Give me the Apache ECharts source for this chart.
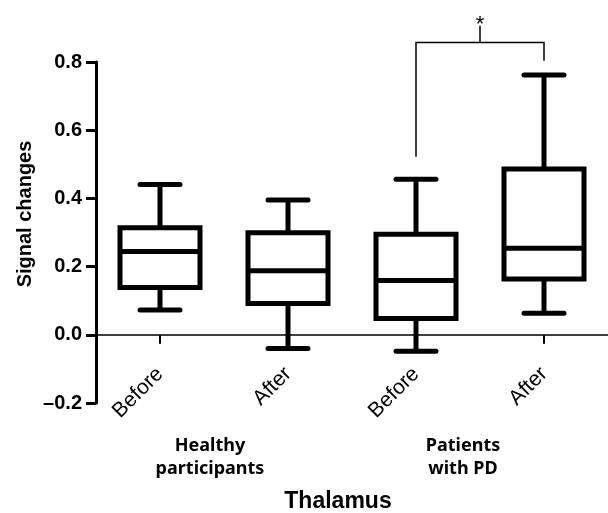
<!DOCTYPE html>
<html>
<head>
<meta charset="utf-8">
<script src="https://cdn.jsdelivr.net/npm/echarts@6/dist/echarts.min.js"></script>
<style>
  html, body { margin: 0; padding: 0; background: #fff; }
  #main { width: 608px; height: 513px; }
</style>
</head>
<body>
<div id="main"></div>
<script>
// data
var categories = ['Before', 'After', 'Before', 'After'];
var groupLabels = ['Healthy\nparticipants', 'Patients\nwith PD'];
var whiskerLow = [0.073, -0.040, -0.048, 0.063];
var q1 = [0.139, 0.092, 0.048, 0.164];
var median = [0.244, 0.188, 0.159, 0.254];
var q3 = [0.314, 0.299, 0.295, 0.486];
var whiskerHigh = [0.441, 0.395, 0.456, 0.762];
var yMin = -0.2, yMax = 0.8, yStep = 0.2;
// significance bracket: from category, to category, left foot, right foot, top, star
var bracket = [2, 3, 0.522, 0.804, 0.857, 0.906];
var bracketMark = '*';

var boxData = categories.map(function (c, i) {
    return [i, whiskerLow[i], q1[i], median[i], q3[i], whiskerHigh[i]];
});

var dom = document.getElementById('main');
var myChart = echarts.init(dom);

var gridTop = 62, gridHeight = 341;
// move the category axis up from the grid bottom to the zero line
var zeroOffset = -gridHeight * (0 - yMin) / (yMax - yMin);

function renderBox(params, api) {
    var x = api.value(0);
    var pLo = api.coord([x, api.value(1)]);
    var pQ1 = api.coord([x, api.value(2)]);
    var pMed = api.coord([x, api.value(3)]);
    var pQ3 = api.coord([x, api.value(4)]);
    var pHi = api.coord([x, api.value(5)]);
    var cx = pMed[0];
    var half = 40, cap = 20;
    var st = { stroke: '#000', lineWidth: 5, fill: null };
    var cst = { stroke: '#000', lineWidth: 5, lineCap: 'round' };
    return {
        type: 'group',
        children: [
            { type: 'line', shape: { x1: cx, y1: pHi[1], x2: cx, y2: pQ3[1] }, style: st },
            { type: 'line', shape: { x1: cx, y1: pQ1[1], x2: cx, y2: pLo[1] }, style: st },
            { type: 'line', shape: { x1: cx - cap, y1: pHi[1], x2: cx + cap, y2: pHi[1] }, style: cst },
            { type: 'line', shape: { x1: cx - cap, y1: pLo[1], x2: cx + cap, y2: pLo[1] }, style: cst },
            { type: 'rect', shape: { x: cx - half, y: pQ3[1], width: half * 2, height: pQ1[1] - pQ3[1] },
              style: { stroke: '#000', lineWidth: 5, fill: '#fff' } },
            { type: 'line', shape: { x1: cx - half, y1: pMed[1], x2: cx + half, y2: pMed[1] }, style: st }
        ]
    };
}

function renderBracket(params, api) {
    var a = api.coord([api.value(0), api.value(2)]);
    var b = api.coord([api.value(1), api.value(3)]);
    var topL = api.coord([api.value(0), api.value(4)]);
    var topR = api.coord([api.value(1), api.value(4)]);
    var star = api.coord([api.value(0), api.value(5)]);
    var mx = (topL[0] + topR[0]) / 2;
    var st = { stroke: '#000', lineWidth: 1.5, fill: null };
    return {
        type: 'group',
        children: [
            { type: 'polyline', shape: { points: [a, topL, topR, b] }, style: st },
            { type: 'line', shape: { x1: mx, y1: topL[1], x2: mx, y2: star[1] }, style: st },
            { type: 'text', x: mx, y: star[1] - 1,
              style: { text: bracketMark, fill: '#000', font: '22px "Liberation Sans"',
                       align: 'center', verticalAlign: 'middle' } }
        ]
    };
}

var option = {
    backgroundColor: '#fff',
    animation: false,
    grid: { left: 96, top: gridTop, width: 516, height: gridHeight },
    xAxis: {
        type: 'category',
        data: categories,
        offset: zeroOffset,
        axisLine: { onZero: false, lineStyle: { color: '#000', width: 1.5 } },
        axisTick: { show: true, alignWithLabel: true, length: 9, lineStyle: { color: '#000', width: 2 } },
        axisLabel: {
            rotate: 45, margin: 36, color: '#000',
            fontFamily: 'Liberation Sans', fontSize: 21
        },
        splitLine: { show: false }
    },
    yAxis: {
        type: 'value',
        min: yMin, max: yMax, interval: yStep,
        axisLine: { show: true, lineStyle: { color: '#000', width: 3 } },
        axisTick: { show: true, length: 10, lineStyle: { color: '#000', width: 3 } },
        axisLabel: {
            margin: 14, color: '#000', fontFamily: 'Liberation Sans',
            fontSize: 20, fontWeight: 'bold',
            formatter: function (v) { return v.toFixed(1).replace('-', '\u2013'); }
        },
        splitLine: { show: false }
    },
    graphic: [
        { type: 'text', x: 25, y: 214, rotation: Math.PI / 2,
          style: { text: 'Signal changes', font: 'bold 20px "Liberation Sans"', fill: '#000',
                   align: 'center', verticalAlign: 'middle' } },
        { type: 'text', x: 210, y: 457,
          style: { text: groupLabels[0], font: 'bold 18px "Noto Sans"', fill: '#000',
                   align: 'center', verticalAlign: 'middle', lineHeight: 23 } },
        { type: 'text', x: 463, y: 457,
          style: { text: groupLabels[1], font: 'bold 18px "Noto Sans"', fill: '#000',
                   align: 'center', verticalAlign: 'middle', lineHeight: 23 } },
        { type: 'text', x: 338, y: 502,
          style: { text: 'Thalamus', font: 'bold 23px "Liberation Sans"', fill: '#000',
                   align: 'center', verticalAlign: 'middle' } }
    ],
    series: [
        {
            type: 'custom',
            renderItem: renderBox,
            encode: { x: 0, y: [1, 2, 3, 4, 5] },
            data: boxData,
            z: 3
        },
        {
            type: 'custom',
            renderItem: renderBracket,
            encode: { x: [0, 1], y: [2, 3, 4, 5] },
            data: [bracket],
            clip: false,
            z: 4
        }
    ]
};
myChart.setOption(option, true);
window.onresize = myChart.resize;
</script>
</body>
</html>
